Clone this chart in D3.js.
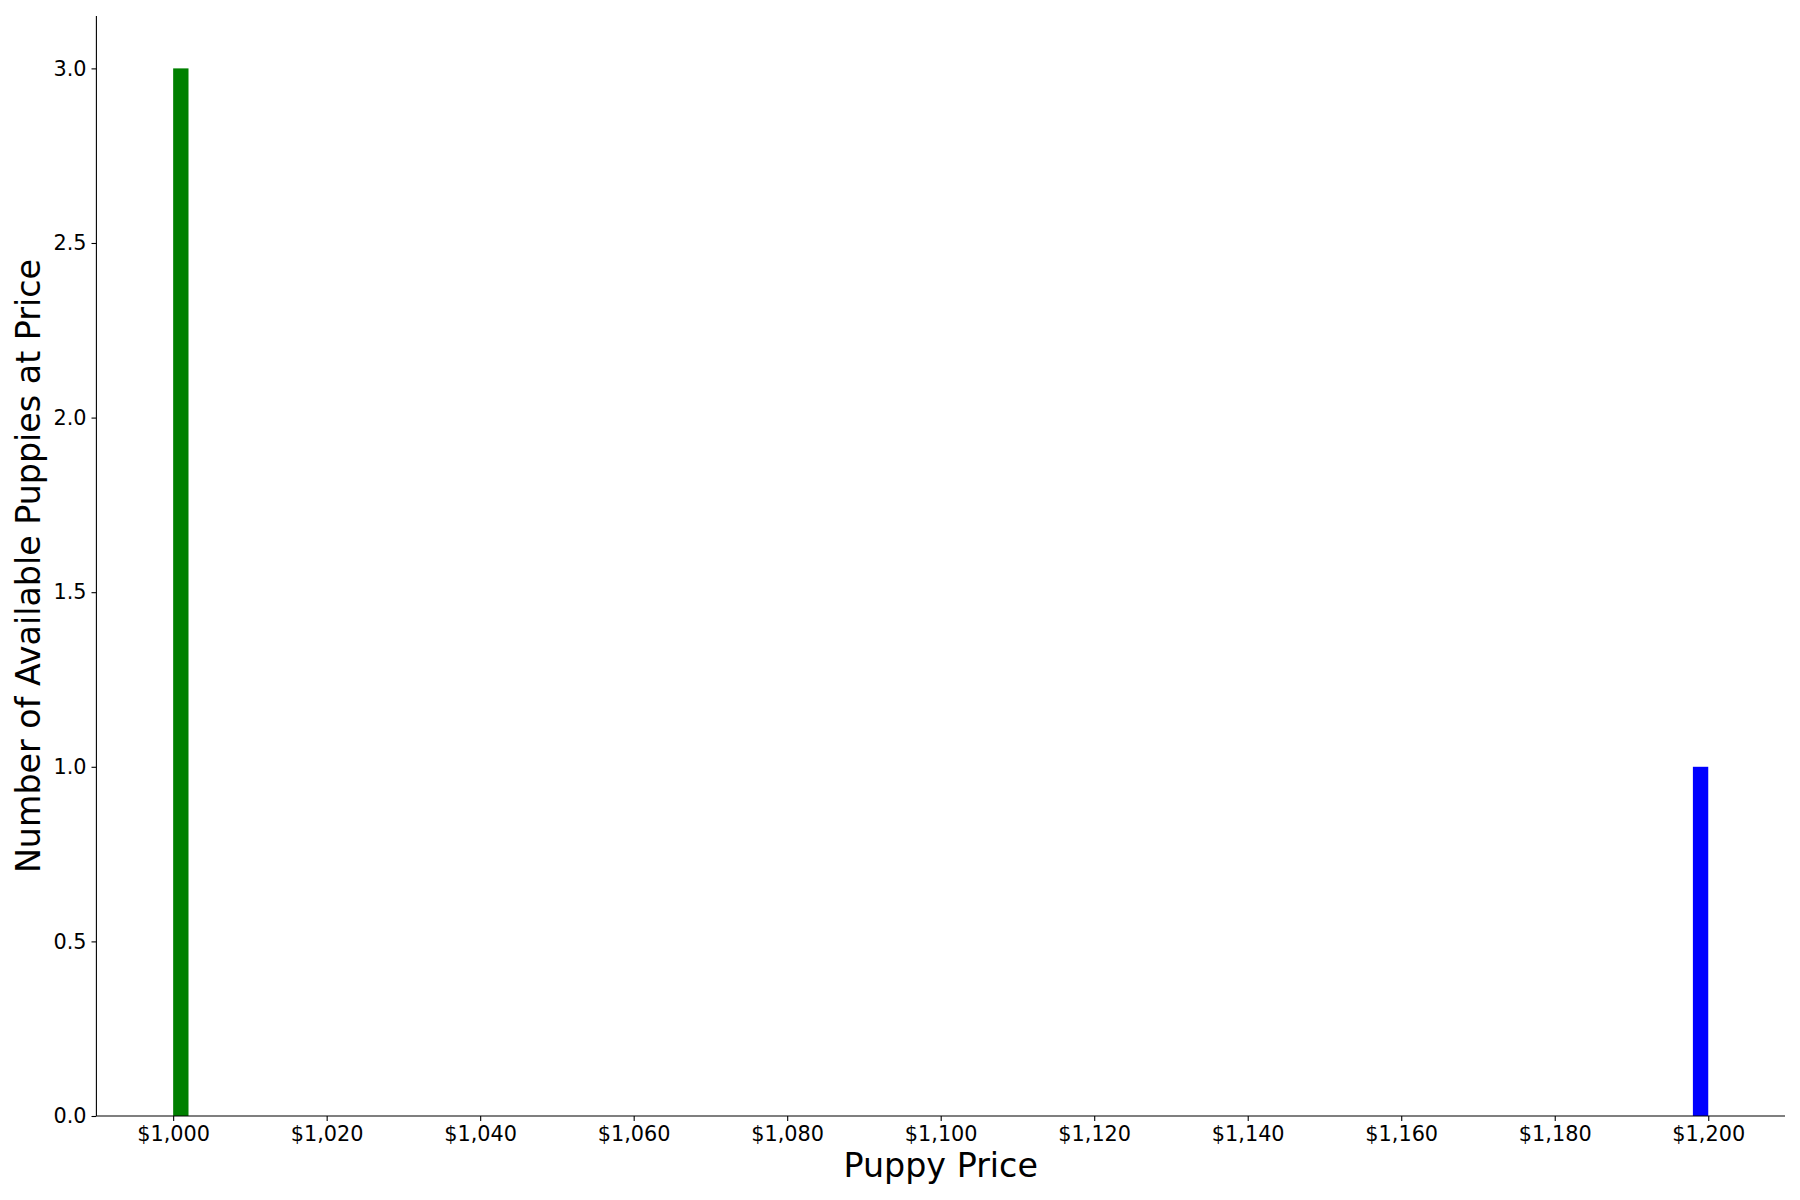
<!DOCTYPE html>
<html>
<head>
<meta charset="utf-8">
<script src="https://cdn.jsdelivr.net/npm/d3@7"></script>
<style>
  body { margin: 0; background: #fff; }
  svg { display: block; font-family: "DejaVu Sans", sans-serif; }
</style>
</head>
<body>
<div id="chart"></div>
<script>
// histogram bins that have puppies in them (bin width $2)
const binStart = [1000, 1198];
const binEnd = [1002, 1200];
const counts = [3, 1];
const barColors = ['green', 'blue'];

const xTicks = [1000, 1020, 1040, 1060, 1080, 1100, 1120, 1140, 1160, 1180, 1200];
const yTicks = [0, 0.5, 1.0, 1.5, 2.0, 2.5, 3.0];

const width = 1800, height = 1200;
const margin = {top: 16, right: 15, bottom: 84, left: 96.4};

const svg = d3.select('#chart').append('svg')
    .attr('width', width)
    .attr('height', height);

const x = d3.scaleLinear()
    .domain([990, 1210])
    .range([margin.left, width - margin.right]);

const y = d3.scaleLinear()
    .domain([0, 3.15])
    .range([height - margin.bottom, margin.top]);

const bins = binStart.map((s, i) => ({s, e: binEnd[i], n: counts[i], c: barColors[i]}));

// bars
svg.append('g')
    .selectAll('rect')
    .data(bins)
    .join('rect')
    .attr('x', d => x(d.s))
    .attr('width', d => x(d.e) - x(d.s))
    .attr('y', d => y(d.n))
    .attr('height', d => y(0) - y(d.n))
    .attr('fill', d => d.c);

const fmt = d => '$' + d3.format(',')(d);

// x axis
const gx = svg.append('g')
    .attr('transform', `translate(0,${y(0)})`)
    .call(d3.axisBottom(x).tickValues(xTicks).tickFormat(fmt).tickSize(4.9).tickPadding(4.9));

// y axis
const gy = svg.append('g')
    .attr('transform', `translate(${x.range()[0]},0)`)
    .call(d3.axisLeft(y).tickValues(yTicks).tickFormat(d3.format('.1f')).tickSize(4.9).tickPadding(4.9));

[gx, gy].forEach(g => {
    g.select('.domain').attr('stroke', '#000').attr('stroke-width', 1.1);
    g.selectAll('.tick line').attr('stroke', '#000').attr('stroke-width', 1.1);
    g.selectAll('.tick text')
        .attr('fill', '#000')
        .style('font-family', '"DejaVu Sans", sans-serif')
        .style('font-size', '20.8px');
});
// matplotlib-style axis: no end caps
gx.select('.domain').attr('d', `M${x.range()[0]},0H${x.range()[1]}`);
gy.select('.domain').attr('d', `M0,${y.range()[0]}V${y.range()[1]}`);

// axis titles
svg.append('text')
    .attr('x', (x.range()[0] + x.range()[1]) / 2)
    .attr('y', 1177)
    .attr('text-anchor', 'middle')
    .style('font-size', '33.3px')
    .text('Puppy Price');

svg.append('text')
    .attr('transform', `translate(40,${(y.range()[0] + y.range()[1]) / 2}) rotate(-90)`)
    .attr('text-anchor', 'middle')
    .style('font-size', '33.3px')
    .text('Number of Available Puppies at Price');
</script>
</body>
</html>
